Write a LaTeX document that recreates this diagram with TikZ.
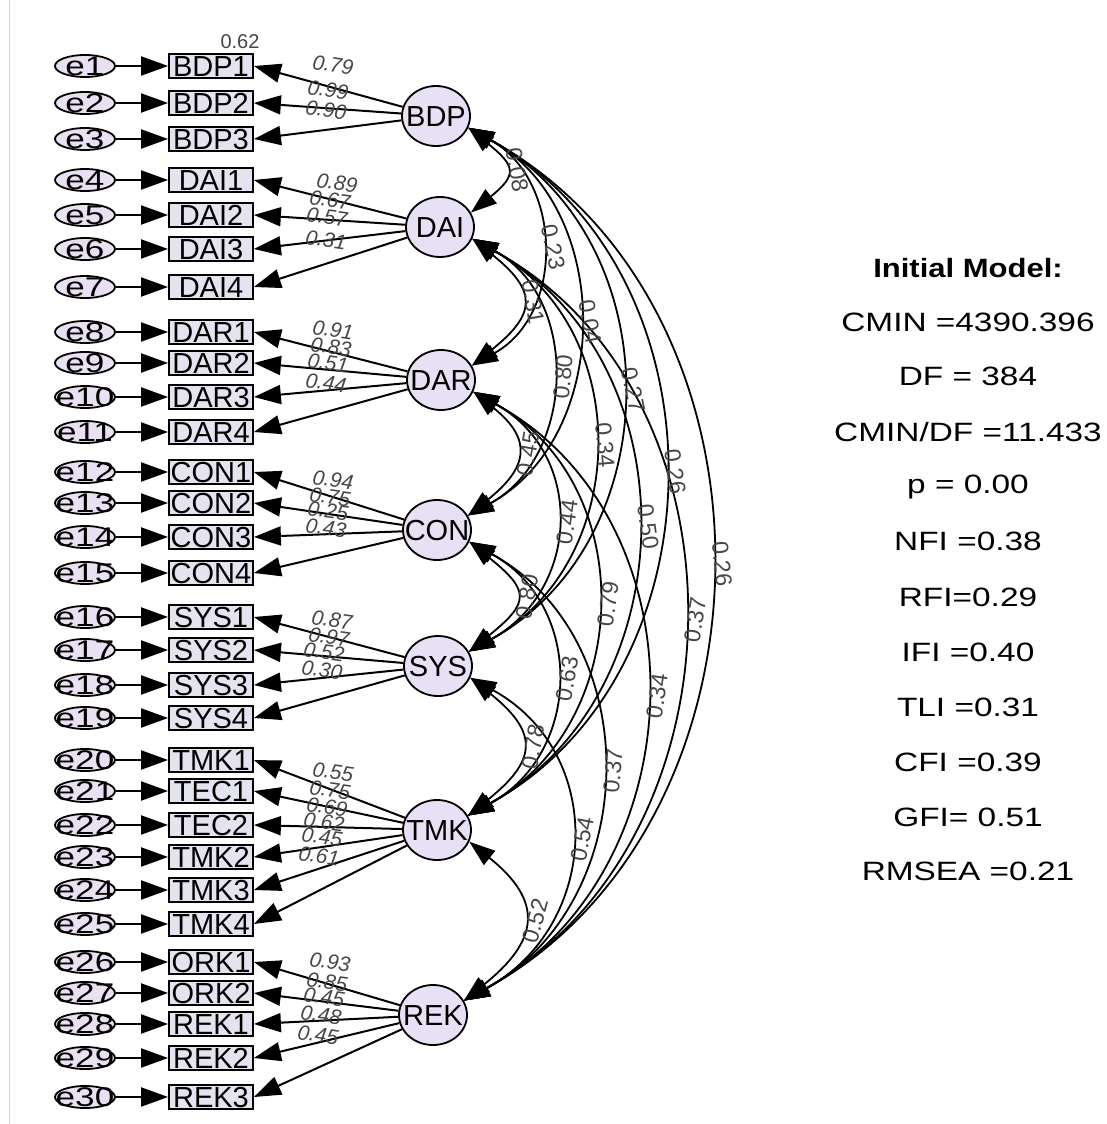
\documentclass[tikz,border=0pt]{standalone}
\usepackage{fontspec}
\setmainfont{Liberation Sans}
\usetikzlibrary{arrows.meta,calc,shapes.geometric}
\definecolor{latfill}{RGB}{232,224,244}
\definecolor{errfill}{RGB}{234,224,244}
\definecolor{boxfill}{RGB}{228,228,240}
\definecolor{labgray}{RGB}{70,70,70}
\newcommand\ov[2][1]{\smash{\makebox[0pt]{\raisebox{-0.36em}{\scalebox{#1}[1]{#2}}}}}
\newcommand\cvarc[4]{\draw[cov] (#1.-20) .. controls ($(#1.-20)+(#3,#4)$) and ($(#2.25)+(#3,-#4)$) .. (#2.25);}
\begin{document}
\begin{tikzpicture}[x=1pt,y=-1pt,
  err/.style={ellipse,draw,line width=1.8pt,fill=errfill,minimum width=60pt,minimum height=22pt,inner sep=0pt,font=\fontsize{27}{27}\selectfont},
  obs/.style={rectangle,draw,line width=1.8pt,fill=boxfill,minimum width=84pt,minimum height=24pt,inner sep=0pt,font=\fontsize{29}{29}\selectfont},
  lat/.style={ellipse,draw,line width=1.8pt,fill=latfill,minimum width=68pt,minimum height=60pt,inner sep=0pt,font=\fontsize{29}{29}\selectfont},
  ld/.style={line width=2pt,-{Triangle[length=27pt,width=19pt]}},
  cov/.style={line width=1.8pt,{Triangle[length=26pt,width=18pt]}-{Triangle[length=26pt,width=18pt]}},
  wl/.style={font=\fontsize{21}{21}\selectfont\itshape,text=labgray,rotate=-8,inner sep=0pt},
  cl/.style={font=\fontsize{23}{23}\selectfont,text=labgray,inner sep=0pt},
  stat/.style={font=\fontsize{26.5}{26.5}\selectfont,anchor=center,inner sep=0pt}
]
\useasboundingbox (0,0) rectangle (1106,1124);
\fill[white] (0,0) rectangle (1106,1124);
\draw[black!15,line width=1pt] (9,0) -- (9,1124);

% observed variables and errors
\foreach \i/\y/\nm in {1/66/BDP1,2/103/BDP2,3/139/BDP3,4/180/DAI1,5/215/DAI2,6/249/DAI3,7/287/DAI4,8/332/DAR1,9/363/DAR2,10/397/DAR3,11/432/DAR4,12/472/CON1,13/503/CON2,14/537/CON3,15/573/CON4,16/617/SYS1,17/650/SYS2,18/685/SYS3,19/718/SYS4,20/760/TMK1,21/791/TEC1,22/825/TEC2,23/857/TMK2,24/890/TMK3,25/924/TMK4,26/962/ORK1,27/993/ORK2,28/1024/REK1,29/1058/REK2,30/1097/REK3}{
  \node[err] (e\i) at (85,\y) {\ov[1.3]{e\i}};
  \node[obs] (b\i) at (211,\y) {\ov{\nm}};
  \draw[ld] (e\i) -- (b\i.west);
}
\node[cl,font=\fontsize{20}{20}\selectfont] (r1) at (240,42) {0.62};

% latent variables
\node[lat] (BDP) at (436,116) {\ov{BDP}};
\node[lat] (DAI) at (440,227) {\ov{DAI}};
\node[lat] (DAR) at (441,380) {\ov{DAR}};
\node[lat] (CON) at (437,530) {\ov{CON}};
\node[lat] (SYS) at (438,666) {\ov{SYS}};
\node[lat] (TMK) at (437,830) {\ov{TMK}};
\node[lat] (REK) at (433,1015) {\ov{REK}};

% loadings
\foreach \b in {1,2,3} \draw[ld] (BDP) -- (b\b.east);
\foreach \b in {4,5,6,7} \draw[ld] (DAI) -- (b\b.east);
\foreach \b in {8,9,10,11} \draw[ld] (DAR) -- (b\b.east);
\foreach \b in {12,13,14,15} \draw[ld] (CON) -- (b\b.east);
\foreach \b in {16,17,18,19} \draw[ld] (SYS) -- (b\b.east);
\foreach \b in {20,21,22,23,24,25} \draw[ld] (TMK) -- (b\b.east);
\foreach \b in {26,27,28,29,30} \draw[ld] (REK) -- (b\b.east);

\foreach \i/\x/\y/\v in {1/333/65/0.79,2/328/90/0.99,3/326/110/0.90,4/337/183/0.89,5/330/200/0.67,6/327/217/0.57,7/326/240/0.31,8/333/330/0.91,9/331/347/0.83,10/328/363/0.51,11/326/383/0.44,12/333/480/0.94,13/330/497/0.75,14/328/511/0.25,15/326/528/0.43,16/332/620/0.87,17/329/637/0.97,18/324/652/0.52,19/322/670/0.30,20/333/772/0.55,21/330/790/0.75,22/327/807/0.69,23/324/822/0.62,24/322/837/0.45,25/319/856/0.61,26/330/962/0.93,27/327/982/0.85,28/324/997/0.45,29/321/1015/0.48,30/318/1035/0.45}
  \node[wl] (w\i) at (\x,\y) {\v};

% covariances
\cvarc{BDP}{DAI}{47}{38}
\cvarc{BDP}{DAR}{94}{52}
\cvarc{BDP}{CON}{146}{80}
\cvarc{BDP}{SYS}{203}{112}
\cvarc{BDP}{TMK}{260}{143}
\cvarc{BDP}{REK}{325}{179}
\cvarc{DAI}{DAR}{65}{52}
\cvarc{DAI}{CON}{108}{59}
\cvarc{DAI}{SYS}{163}{90}
\cvarc{DAI}{TMK}{221}{122}
\cvarc{DAI}{REK}{286}{157}
\cvarc{DAR}{CON}{60}{48}
\cvarc{DAR}{SYS}{112}{62}
\cvarc{DAR}{TMK}{167}{92}
\cvarc{DAR}{REK}{235}{129}
\cvarc{CON}{SYS}{61}{49}
\cvarc{CON}{TMK}{115}{63}
\cvarc{CON}{REK}{179}{98}
\cvarc{SYS}{TMK}{69}{55}
\cvarc{SYS}{REK}{137}{75}
\cvarc{TMK}{REK}{75}{60}

\foreach \n/\x/\y/\v/\r in {c12/517/170/0.08/-80,c13/553/247/0.23/-78,c14/590/322/0.04/-80,c15/633/390/0.27/-78,c16/675/472/0.26/-82,c17/722/564/0.26/-84,c23/533/302/0.31/-80,c24/563/377/0.80/85,c25/605/445/0.34/-85,c26/648/527/0.50/-82,c27/695/620/0.37/81,c34/528/454/0.45/80,c35/567/522/0.44/82,c36/608/604/0.79/82,c37/657/696/0.34/82,c45/527/597/0.80/80,c46/567/679/0.63/80,c47/613/771/0.37/85,c56/533/747/0.78/80,c57/582/839/0.54/79,c67/535/921/0.52/75}
  \node[cl,rotate=\r] (\n) at (\x,\y) {\v};

% fit statistics
\node[stat] (s0) at (968,268) {\bfseries\scalebox{1.17}[1]{Initial Model:}};
\foreach \i/\y/\t in {1/322/{CMIN =4390.396},2/376/{DF = 384},3/432/{CMIN/DF =11.433},4/487/{p = 0.00},5/541/{NFI =0.38},6/597/{RFI=0.29},7/652/{IFI =0.40},8/707/{TLI =0.31},9/762/{CFI =0.39},10/817/{GFI= 0.51},11/871/{RMSEA =0.21}}
  \node[stat] (s\i) at (968,\y) {\scalebox{1.26}[1]{\t}};
\end{tikzpicture}
\end{document}
